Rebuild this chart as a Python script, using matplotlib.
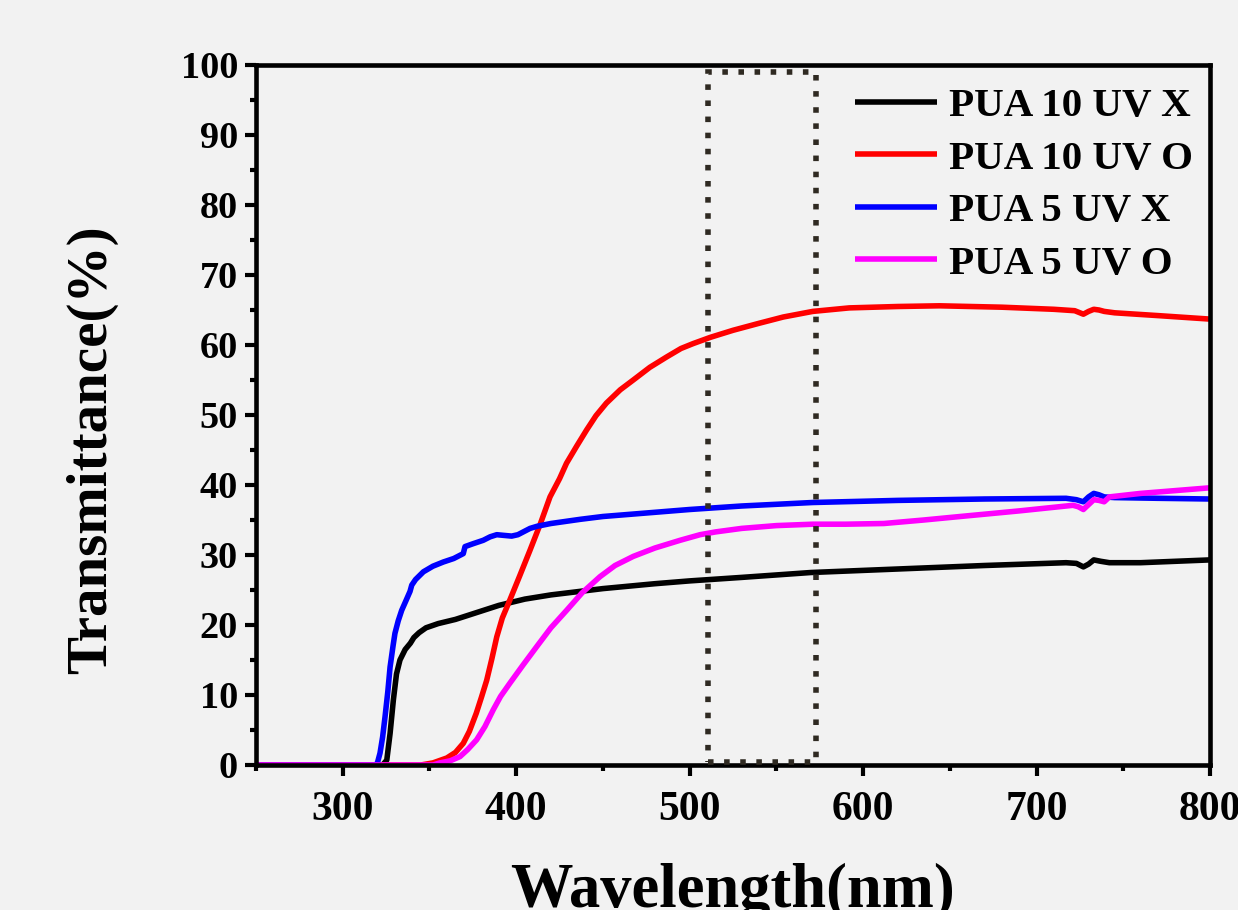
import matplotlib
matplotlib.use("Agg")
import matplotlib.pyplot as plt
from matplotlib.patches import Rectangle
from matplotlib.ticker import MultipleLocator

# UV-vis transmittance spectra, wavelength in nm and transmittance in %
wl_10x = [250, 323, 325.4, 327.3, 329.2, 331, 333, 336, 339, 341, 344, 348, 355, 365,
          375, 390, 405, 420, 450, 480, 500, 530, 570, 620, 670, 717, 723, 727, 730,
          733, 737, 742, 760, 800]
t_10x = [0, 0, 0.7, 4.5, 9.3, 13, 15, 16.5, 17.4, 18.2, 18.9, 19.6, 20.2, 20.8,
         21.6, 22.8, 23.7, 24.3, 25.2, 25.9, 26.3, 26.8, 27.5, 28.0, 28.5, 28.9, 28.8,
         28.3, 28.7, 29.3, 29.1, 28.9, 28.9, 29.3]

wl_10o = [250, 345, 352, 360, 365, 369.5, 373, 377, 380, 383, 386, 388.8, 392, 396.4,
          402, 408, 414, 419.5, 425, 429, 435, 440.7, 446, 452, 460, 467.5, 477, 486.8,
          495, 502, 512, 525, 540, 554, 571, 592, 620, 644, 680, 710, 722, 727, 730,
          733, 736, 739, 745, 770, 800]
t_10o = [0, 0, 0.3, 1, 1.8, 3.1, 4.8, 7.4, 9.7, 12.1, 15.2, 18.3, 21, 23.6,
         27, 30.7, 34.5, 38.3, 40.9, 43.1, 45.6, 47.9, 49.9, 51.7, 53.6, 55, 56.8, 58.3,
         59.5, 60.2, 61.1, 62.1, 63.1, 64, 64.8, 65.3, 65.5, 65.6, 65.4, 65.1, 64.9, 64.4,
         64.8, 65.1, 65.0, 64.8, 64.6, 64.2, 63.7]

wl_5x = [250, 319, 320, 321.5, 323, 324.4, 326, 327.3, 329, 330.1, 332, 334, 336.5,
         338.8, 339.8, 342, 346.5, 352, 358, 364, 369.5, 370.5, 375, 381, 385, 388.8,
         393, 397.4, 401, 404.1, 408, 412, 420, 437, 450, 475, 500, 530, 571, 620, 670,
         717, 723, 727, 730, 733, 736, 739, 745, 770, 800]
t_5x = [0, 0, 0.3, 1.7, 4, 6.9, 10.5, 14, 17, 18.8, 20.6, 22.1, 23.5,
        24.8, 25.7, 26.5, 27.6, 28.4, 29.0, 29.5, 30.2, 31.2, 31.6, 32.1, 32.6, 32.9,
        32.8, 32.7, 32.9, 33.3, 33.8, 34.1, 34.5, 35.1, 35.5, 36.0, 36.5, 37.0, 37.5,
        37.8, 38.0, 38.1, 37.9, 37.6, 38.3, 38.8, 38.6, 38.3, 38.2, 38.1, 38.0]

wl_5o = [250, 352, 356, 362, 367.6, 372, 377.2, 382, 386.8, 391, 396.4, 404, 411.8,
         420, 429.1, 438, 448.3, 457, 467.5, 480, 494.5, 506, 515, 530, 550, 571, 590,
         612, 635, 656, 690, 721, 724, 727, 730, 733, 736, 739, 742, 760, 780, 800]
t_5o = [0, 0, 0.3, 0.6, 1.2, 2.2, 3.6, 5.5, 7.9, 9.8, 11.7, 14.3, 16.9,
        19.6, 22.1, 24.6, 26.9, 28.5, 29.8, 31.0, 32.1, 32.9, 33.3, 33.8, 34.2, 34.4,
        34.4, 34.5, 35.0, 35.5, 36.3, 37.1, 36.9, 36.5, 37.2, 37.9, 37.8, 37.6, 38.3,
        38.8, 39.2, 39.6]

labels = ["PUA 10 UV X", "PUA 10 UV O", "PUA 5 UV X", "PUA 5 UV O"]
colors = ["#000000", "#ff0000", "#0000ff", "#ff00ff"]

# highlighted wavelength window (nm, %)
box_x = [510.6, 573.0]
box_y = [0.5, 99.0]

plt.rcParams["font.family"] = ["Liberation Serif", "DejaVu Serif"]
plt.rcParams["font.weight"] = "bold"

bg = "#f2f2f2"
fig = plt.figure(figsize=(12.38, 9.10), dpi=100, facecolor=bg)
ax = fig.add_axes([256 / 1238, 1 - 765 / 910, 954 / 1238, 700 / 910])
ax.set_facecolor(bg)

series = [(wl_10x, t_10x), (wl_10o, t_10o), (wl_5x, t_5x), (wl_5o, t_5o)]
for (x, y), lab, c in zip(series, labels, colors):
    ax.plot(x, y, color=c, lw=4.0, label=lab, solid_joinstyle="round",
            solid_capstyle="butt")

rect = Rectangle((box_x[0], box_y[0]), box_x[1] - box_x[0], box_y[1] - box_y[0],
                 fill=False, edgecolor="#2f2a22", lw=4.0, linestyle=(0, (1.0, 1.9)),
                 zorder=5)
ax.add_patch(rect)

ax.set_xlim(250, 800)
ax.set_ylim(0, 100)
ax.xaxis.set_major_locator(MultipleLocator(100))
ax.xaxis.set_minor_locator(MultipleLocator(50))
ax.yaxis.set_major_locator(MultipleLocator(10))
ax.yaxis.set_minor_locator(MultipleLocator(5))

for s in ax.spines.values():
    s.set_linewidth(3.3)
ax.tick_params(which="major", direction="out", length=8, width=3.0)
ax.tick_params(which="minor", direction="out", length=4, width=3.0)
ax.tick_params(axis="x", which="major", labelsize=30, pad=11)
ax.tick_params(axis="y", which="major", labelsize=27.5, pad=5)
ax.tick_params(top=False, right=False)
for t in ax.get_xticklabels() + ax.get_yticklabels():
    t.set_fontweight("bold")

ax.set_xlabel("Wavelength(nm)", fontsize=45, fontweight="bold")
ax.set_ylabel("Transmittance(%)", fontsize=41, fontweight="bold")
ax.xaxis.set_label_coords(0.499, -0.14)
ax.yaxis.set_label_coords(-0.145, 0.45)

leg = ax.legend(loc="upper right", bbox_to_anchor=(1.006, 1.0), frameon=False,
                fontsize=29.5, handlelength=2.0, handletextpad=0.3,
                labelspacing=0.36, borderaxespad=0.15)
for t in leg.get_texts():
    t.set_fontweight("bold")
for h in leg.get_lines():
    h.set_linewidth(4.0)

fig.savefig("out.png", dpi=100, facecolor=bg)
